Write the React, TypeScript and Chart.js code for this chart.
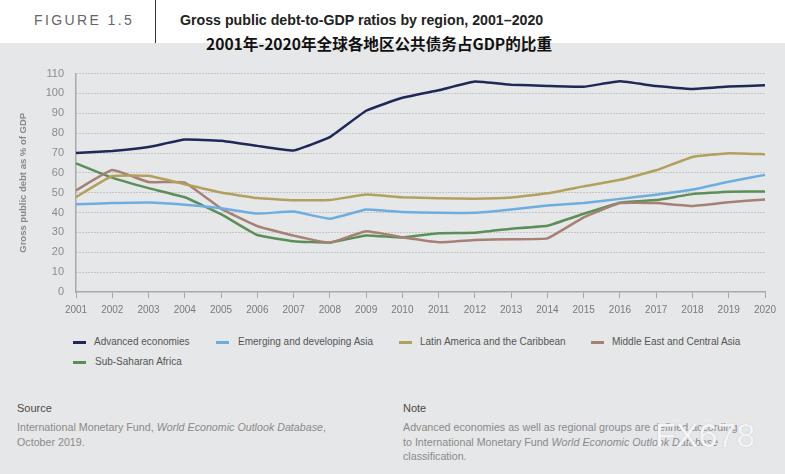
import React, { useEffect, useRef } from "react";
import { Chart, registerables } from "chart.js";

Chart.register(...registerables);

const years = ["2001","2002","2003","2004","2005","2006","2007","2008","2009","2010","2011","2012","2013","2014","2015","2016","2017","2018","2019","2020"];
const advanced = [70, 71, 73, 76.8, 76.2, 73.6, 71.3, 78, 91.3, 97.8, 101.6, 106, 104.4, 103.8, 103.4, 106.1, 103.7, 102.3, 103.5, 104.1];
const emergingAsia = [44.2, 44.8, 45.1, 44, 42.2, 39.5, 40.5, 36.9, 41.6, 40.3, 39.9, 39.9, 41.6, 43.6, 44.8, 46.9, 49, 51.6, 55.5, 59];
const latinAmerica = [47.8, 58.4, 58.5, 54.3, 50.1, 47.3, 46.2, 46.3, 49.1, 47.7, 47.2, 47, 47.6, 49.7, 53.2, 56.5, 61.3, 68, 69.9, 69.4];
const middleEast = [51.2, 61.4, 55.4, 55.1, 42, 33.2, 28.4, 24.9, 30.6, 27.6, 25.1, 26.2, 26.6, 27, 37.6, 44.8, 44.8, 43.3, 45.2, 46.6];
const subSaharan = [64.8, 57.6, 52.3, 47.7, 39.2, 28.7, 25.6, 24.9, 28.5, 27.4, 29.6, 29.8, 31.9, 33.4, 39.4, 45, 46.3, 49.3, 50.5, 50.6];

const seriesNames = ["Advanced economies", "Emerging and developing Asia", "Latin America and the Caribbean", "Middle East and Central Asia", "Sub-Saharan Africa"];
const seriesColors = ["#1f2858", "#6dade0", "#b2a05d", "#a68075", "#5c8f58"];
const seriesData = [advanced, emergingAsia, latinAmerica, middleEast, subSaharan];

const yTitle = "Gross public debt as % of GDP";
const FONT = "'Liberation Sans', Arial, Helvetica, sans-serif";

export default function App() {
  const canvasRef = useRef<HTMLCanvasElement | null>(null);

  useEffect(() => {
    if (!canvasRef.current) return;
    const chart = new Chart(canvasRef.current, {
      type: "line",
      data: {
        labels: years,
        datasets: seriesData.map((d, i) => ({
          label: seriesNames[i],
          data: d,
          borderColor: seriesColors[i],
          backgroundColor: seriesColors[i],
          borderWidth: 2.5,
          pointRadius: 0,
          tension: 0.1,
          fill: false,
          borderJoinStyle: "round" as const,
        })),
      },
      options: {
        animation: false,
        responsive: false,
        maintainAspectRatio: false,
        layout: { padding: { left: 0, right: 20, top: 9, bottom: 0 } },
        plugins: { legend: { display: false }, tooltip: { enabled: false }, title: { display: false } },
        scales: {
          x: {
            offset: false,
            grid: { display: true, drawOnChartArea: false, drawTicks: true, tickLength: 6, color: "#a9a9a9", lineWidth: 1 },
            border: { display: true, color: "#a9a9a9", width: 1.5 },
            ticks: { color: "#7a7a7a", font: { family: FONT, size: 10 }, padding: 6, maxRotation: 0, autoSkip: false },
            afterFit: (scale: any) => { scale.height = 25; },
          },
          y: {
            min: 0,
            max: 110,
            ticks: { stepSize: 10, color: "#8c8c8c", font: { family: FONT, size: 11 }, padding: 12 },
            grid: {
              drawTicks: false,
              lineWidth: 1,
              color: (ctx: any) => (ctx.tick && ctx.tick.value === 0 ? "rgba(0,0,0,0)" : "#a4a4a4"),
            },
            border: { display: true, color: "#a9a9a9", width: 1.5, dash: [1, 2] },
            title: { display: true, text: yTitle, color: "#8a8a8a", font: { family: FONT, size: 9.5, weight: "bold" }, padding: { top: 18, bottom: 0 } },
            afterFit: (scale: any) => { scale.width = 76; },
          },
        },
      },
    });
    return () => chart.destroy();
  }, []);

  const abs = (s: React.CSSProperties): React.CSSProperties => ({ position: "absolute", whiteSpace: "nowrap", ...s });

  const legendItems = [
    { i: 0, sx: 73, lx: 94, y: 342 },
    { i: 1, sx: 216, lx: 238, y: 342 },
    { i: 2, sx: 399, lx: 420, y: 342 },
    { i: 3, sx: 591, lx: 612, y: 342 },
    { i: 4, sx: 73, lx: 95, y: 362 },
  ];

  return (
    <div style={{ position: "absolute", left: 0, top: 0, width: 785, height: 474, background: "#e6e7e8", overflow: "hidden", fontFamily: FONT }}>
      <div style={abs({ left: 0, top: 0, width: 785, height: 43, background: "#ffffff" })} />
      <div style={abs({ left: 155, top: 0, width: 1, height: 43, background: "#333" })} />
      <div style={abs({ left: 34, top: 11, fontSize: 14, letterSpacing: 2.4, color: "#666", lineHeight: "18px" })}>FIGURE 1.5</div>
      <div style={abs({ left: 180, top: 11, fontSize: 14.2, fontWeight: "bold", color: "#222", lineHeight: "18px" })}>Gross public debt-to-GDP ratios by region, 2001–2020</div>
      <div style={abs({ left: 206, top: 33, fontSize: 15.6, fontWeight: "bold", color: "#111", lineHeight: "20px", fontFamily: "'Noto Sans CJK SC', sans-serif" })}>2001年-2020年全球各地区公共债务占GDP的比重</div>

      <canvas ref={canvasRef} width={785} height={262} style={{ position: "absolute", left: 0, top: 55, width: 785, height: 262 }} />

      {legendItems.map((it) => (
        <React.Fragment key={it.i}>
          <div style={abs({ left: it.sx, top: it.y - 1, width: 13, height: 2.5, background: seriesColors[it.i] })} />
          <div style={abs({ left: it.lx, top: it.y - 7, fontSize: 10, color: "#555", lineHeight: "14px" })}>{seriesNames[it.i]}</div>
        </React.Fragment>
      ))}

      <div style={abs({ left: 17, top: 401, fontSize: 11, color: "#4a4a4a", lineHeight: "14px" })}>Source</div>
      <div style={abs({ left: 17, top: 420, fontSize: 10.7, color: "#8a8a8a", lineHeight: "14.5px" })}>
        International Monetary Fund, <i>World Economic Outlook Database</i>,<br />October 2019.
      </div>
      <div style={abs({ left: 403, top: 401, fontSize: 11, color: "#4a4a4a", lineHeight: "14px" })}>Note</div>
      <div style={abs({ left: 403, top: 420, fontSize: 10.7, color: "#8a8a8a", lineHeight: "14.5px" })}>
        Advanced economies as well as regional groups are defined according<br />to International Monetary Fund <i>World Economic Outlook Database</i><br />classification.
      </div>
      <div style={abs({ left: 655, top: 415, fontSize: 34, color: "#f4f5f6", lineHeight: "40px", textShadow: "0 0 1px #b0b5bc" })}>FX678</div>
    </div>
  );
}
